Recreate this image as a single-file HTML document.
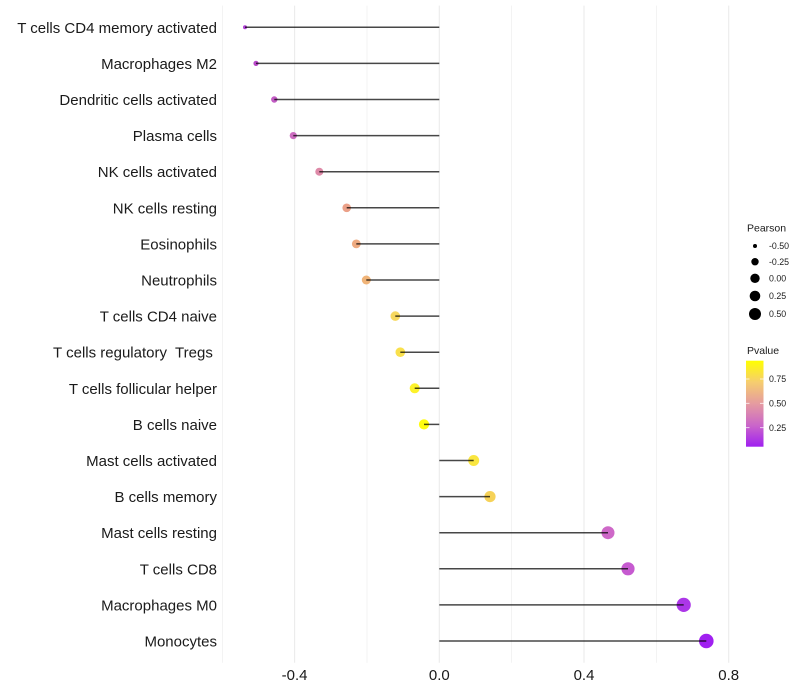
<!DOCTYPE html>
<html>
<head>
<meta charset="utf-8">
<style>
  html, body { margin:0; padding:0; background:#fff; }
  svg { display:block; font-family:"Liberation Sans", Arial, sans-serif; }
</style>
</head>
<body>
<svg width="800" height="700" viewBox="0 0 800 700" xmlns="http://www.w3.org/2000/svg">
  <rect x="0" y="0" width="800" height="700" fill="#ffffff"/>
  <!-- grid lines -->
  <g stroke="#EBEBEB">
    <line x1="222.3" y1="5.6" x2="222.3" y2="662.7" stroke-width="0.6"/>
    <line x1="294.6" y1="5.6" x2="294.6" y2="662.7" stroke-width="1.1"/>
    <line x1="367.0" y1="5.6" x2="367.0" y2="662.7" stroke-width="0.6"/>
    <line x1="439.3" y1="5.6" x2="439.3" y2="662.7" stroke-width="1.1"/>
    <line x1="511.6" y1="5.6" x2="511.6" y2="662.7" stroke-width="0.6"/>
    <line x1="584.0" y1="5.6" x2="584.0" y2="662.7" stroke-width="1.1"/>
    <line x1="656.3" y1="5.6" x2="656.3" y2="662.7" stroke-width="0.6"/>
    <line x1="728.7" y1="5.6" x2="728.7" y2="662.7" stroke-width="1.1"/>
  </g>

  <!-- points -->
  <g>
    <circle cx="245.0" cy="27.3" r="2.0" fill="#B040D6"/>
    <circle cx="256.0" cy="63.4" r="2.6" fill="#B848C8"/>
    <circle cx="274.3" cy="99.5" r="3.2" fill="#C25CC4"/>
    <circle cx="293.3" cy="135.6" r="3.6" fill="#CC6CC0"/>
    <circle cx="319.3" cy="171.7" r="4.0" fill="#DE8AA8"/>
    <circle cx="346.7" cy="207.8" r="4.3" fill="#EBA088"/>
    <circle cx="356.3" cy="243.9" r="4.4" fill="#EEAA80"/>
    <circle cx="366.3" cy="280.0" r="4.5" fill="#F0B478"/>
    <circle cx="395.3" cy="316.1" r="4.8" fill="#F7D85E"/>
    <circle cx="400.3" cy="352.2" r="4.8" fill="#F9E04C"/>
    <circle cx="414.7" cy="388.3" r="5.0" fill="#FDF22A"/>
    <circle cx="424.0" cy="424.4" r="5.1" fill="#FFFC10"/>
    <circle cx="473.7" cy="460.5" r="5.5" fill="#FAE640"/>
    <circle cx="490.0" cy="496.6" r="5.6" fill="#F6D258"/>
    <circle cx="608.0" cy="532.7" r="6.5" fill="#CE68C8"/>
    <circle cx="628.0" cy="568.8" r="6.6" fill="#C65AD0"/>
    <circle cx="683.7" cy="604.9" r="7.1" fill="#AC36E8"/>
    <circle cx="706.3" cy="641.0" r="7.3" fill="#A020F0"/>
  </g>

  <!-- segments -->
  <g stroke="#000" stroke-opacity="0.72" stroke-width="1.5">
    <line x1="439.3" y1="27.3" x2="245.0" y2="27.3"/>
    <line x1="439.3" y1="63.4" x2="256.0" y2="63.4"/>
    <line x1="439.3" y1="99.5" x2="274.3" y2="99.5"/>
    <line x1="439.3" y1="135.6" x2="293.3" y2="135.6"/>
    <line x1="439.3" y1="171.7" x2="319.3" y2="171.7"/>
    <line x1="439.3" y1="207.8" x2="346.7" y2="207.8"/>
    <line x1="439.3" y1="243.9" x2="356.3" y2="243.9"/>
    <line x1="439.3" y1="280.0" x2="366.3" y2="280.0"/>
    <line x1="439.3" y1="316.1" x2="395.3" y2="316.1"/>
    <line x1="439.3" y1="352.2" x2="400.3" y2="352.2"/>
    <line x1="439.3" y1="388.3" x2="414.7" y2="388.3"/>
    <line x1="439.3" y1="424.4" x2="424.0" y2="424.4"/>
    <line x1="439.3" y1="460.5" x2="473.7" y2="460.5"/>
    <line x1="439.3" y1="496.6" x2="490.0" y2="496.6"/>
    <line x1="439.3" y1="532.7" x2="608.0" y2="532.7"/>
    <line x1="439.3" y1="568.8" x2="628.0" y2="568.8"/>
    <line x1="439.3" y1="604.9" x2="683.7" y2="604.9"/>
    <line x1="439.3" y1="641.0" x2="706.3" y2="641.0"/>
  </g>

  <!-- y axis labels -->
  <g font-size="15" fill="#1a1a1a" text-anchor="end" style="white-space:pre">
    <text x="217" y="32.8">T cells CD4 memory activated</text>
    <text x="217" y="68.9">Macrophages M2</text>
    <text x="217" y="105.0">Dendritic cells activated</text>
    <text x="217" y="141.1">Plasma cells</text>
    <text x="217" y="177.2">NK cells activated</text>
    <text x="217" y="213.3">NK cells resting</text>
    <text x="217" y="249.4">Eosinophils</text>
    <text x="217" y="285.5">Neutrophils</text>
    <text x="217" y="321.6">T cells CD4 naive</text>
    <text x="217" y="357.7" xml:space="preserve">T cells regulatory  Tregs </text>
    <text x="217" y="393.8">T cells follicular helper</text>
    <text x="217" y="429.9">B cells naive</text>
    <text x="217" y="466.0">Mast cells activated</text>
    <text x="217" y="502.1">B cells memory</text>
    <text x="217" y="538.2">Mast cells resting</text>
    <text x="217" y="574.3">T cells CD8</text>
    <text x="217" y="610.4">Macrophages M0</text>
    <text x="217" y="646.5">Monocytes</text>
  </g>

  <!-- x axis labels -->
  <g font-size="15" fill="#1a1a1a" text-anchor="middle">
    <text x="294.6" y="680">-0.4</text>
    <text x="439.3" y="680">0.0</text>
    <text x="584.0" y="680">0.4</text>
    <text x="728.7" y="680">0.8</text>
  </g>

  <!-- Pearson legend -->
  <text x="747" y="231.5" font-size="10.5" fill="#1a1a1a">Pearson</text>
  <g fill="#000">
    <circle cx="755" cy="246" r="2.0"/>
    <circle cx="755" cy="261.7" r="3.7"/>
    <circle cx="755" cy="278.3" r="4.7"/>
    <circle cx="755" cy="296" r="5.3"/>
    <circle cx="755" cy="314" r="6.0"/>
  </g>
  <g font-size="8.8" fill="#1a1a1a">
    <text x="769" y="249.2">-0.50</text>
    <text x="769" y="264.9">-0.25</text>
    <text x="769" y="281.5">0.00</text>
    <text x="769" y="299.2">0.25</text>
    <text x="769" y="317.2">0.50</text>
  </g>

  <!-- Pvalue legend -->
  <defs>
    <linearGradient id="pg" x1="0" y1="1" x2="0" y2="0">
      <stop offset="0" stop-color="#A020F0"/>
      <stop offset="0.25" stop-color="#CA66C9"/>
      <stop offset="0.5" stop-color="#E59BA0"/>
      <stop offset="0.75" stop-color="#F6CD6F"/>
      <stop offset="1" stop-color="#FFFF00"/>
    </linearGradient>
  </defs>
  <text x="747" y="354" font-size="10.5" fill="#1a1a1a">Pvalue</text>
  <rect x="746" y="360.7" width="17.5" height="86" fill="url(#pg)"/>
  <g stroke="#fff" stroke-width="0.8" stroke-opacity="0.9">
    <line x1="746" y1="379" x2="749.5" y2="379"/>
    <line x1="760" y1="379" x2="763.5" y2="379"/>
    <line x1="746" y1="403.3" x2="749.5" y2="403.3"/>
    <line x1="760" y1="403.3" x2="763.5" y2="403.3"/>
    <line x1="746" y1="427.7" x2="749.5" y2="427.7"/>
    <line x1="760" y1="427.7" x2="763.5" y2="427.7"/>
  </g>
  <g font-size="8.8" fill="#1a1a1a">
    <text x="769" y="382.2">0.75</text>
    <text x="769" y="406.5">0.50</text>
    <text x="769" y="430.9">0.25</text>
  </g>
</svg>
</body>
</html>
